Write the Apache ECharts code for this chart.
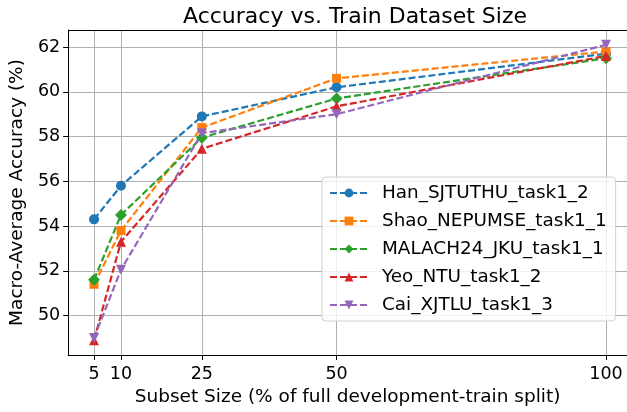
<!DOCTYPE html>
<html lang="en">
<head>
    <meta charset="utf-8">
    <title>Accuracy vs. Train Dataset Size</title>
    <script src="https://cdn.jsdelivr.net/npm/echarts@6/dist/echarts.min.js"></script>
    <style>
    html, body { margin: 0; padding: 0; background: #fff; }
    #chart { width: 627px; height: 412px; }
    </style>
</head>
<body>
    <div id="chart"></div>
    <script>
    // subset sizes (% of train split)
    var subsetSizes = [5, 10, 25, 50, 100];
    var yTicks = [50, 52, 54, 56, 58, 60, 62];

    var han = [54.3, 55.8, 58.9, 60.2, 61.7];
    var shao = [51.4, 53.8, 58.4, 60.6, 61.8];
    var malach = [51.6, 54.5, 57.95, 59.7, 61.5];
    var yeo = [48.9, 53.3, 57.45, 59.35, 61.6];
    var cai = [49.0, 52.05, 58.15, 59.0, 62.1];

    var names = ['Han_SJTUTHU_task1_2', 'Shao_NEPUMSE_task1_1', 'MALACH24_JKU_task1_1',
        'Yeo_NTU_task1_2', 'Cai_XJTLU_task1_3'];
    var colors = ['#1f77b4', '#ff7f0e', '#2ca02c', '#d62728', '#9467bd'];
    var symbols = ['circle', 'rect', 'diamond', 'triangle', 'path://M0,0 L10,0 L5,9 Z'];
    var sizes = [10, 9, 12, 10, 10];
    var values = [han, shao, malach, yeo, cai];

    var font = 'DejaVu Sans';

    function pairs(arr) {
        return subsetSizes.map(function (x, i) { return [x, arr[i]]; });
    }

    var series = values.map(function (v, i) {
        return {
            name: names[i],
            type: 'line',
            data: pairs(v),
            symbol: symbols[i],
            symbolSize: sizes[i],
            itemStyle: { color: colors[i] },
            lineStyle: { color: colors[i], width: 2.2, type: [7, 3] },
            emphasis: { disabled: true },
            animation: false
        };
    });

    var chart = echarts.init(document.getElementById('chart'), null, { renderer: 'canvas' });
    chart.setOption({
        backgroundColor: '#fff',
        title: {
            text: 'Accuracy vs. Train Dataset Size',
            left: 350, textAlign: 'center', top: 1,
            textStyle: { fontFamily: font, fontSize: 22, fontWeight: 'normal', color: '#000' }
        },
        grid: { left: 68, right: 0, top: 30, bottom: 57 },
        legend: {
            left: 322, top: 177, orient: 'vertical',
            padding: [6, 9, 6, 7],
            itemWidth: 38, itemHeight: 11, itemGap: 8,
            backgroundColor: 'rgba(255,255,255,0.8)',
            borderColor: '#d0d0d0', borderWidth: 1, borderRadius: 4,
            textStyle: { fontFamily: font, fontSize: 18.4, color: '#000', lineHeight: 20, padding: [0, 0, 0, 9] },
            data: names
        },
        xAxis: {
            type: 'value', min: 0.2, max: 103.9,
            name: 'Subset Size (% of full development-train split)',
            nameLocation: 'middle', nameGap: 33,
            nameTextStyle: { fontFamily: font, fontSize: 18.5, color: '#000' },
            axisLine: { onZero: false, lineStyle: { color: '#000', width: 1 } },
            axisTick: { show: true, length: 5, customValues: subsetSizes, lineStyle: { color: '#000' } },
            axisLabel: { customValues: subsetSizes, fontFamily: font, fontSize: 17.5, color: '#000', margin: 10 },
            splitLine: { show: true, lineStyle: { color: '#b0b0b0', width: 1 } }
        },
        yAxis: {
            type: 'value', min: 48.24, max: 62.76,
            name: 'Macro-Average Accuracy (%)',
            nameLocation: 'middle', nameGap: 38,
            nameTextStyle: { fontFamily: font, fontSize: 18.5, color: '#000' },
            axisLine: { show: true, onZero: false, lineStyle: { color: '#000', width: 1 } },
            axisTick: { show: true, length: 5, customValues: yTicks, lineStyle: { color: '#000' } },
            axisLabel: { customValues: yTicks, fontFamily: font, fontSize: 17.5, color: '#000', margin: 8 },
            splitLine: { show: true, lineStyle: { color: '#b0b0b0', width: 1 } }
        },
        series: series.concat([{
            // top frame line
            type: 'line', silent: true, data: [],
            markLine: {
                silent: true, symbol: 'none', label: { show: false },
                lineStyle: { color: '#000', width: 1, type: 'solid' },
                data: [{ yAxis: 62.76 }]
            }
        }])
    });
    </script>
</body>
</html>
